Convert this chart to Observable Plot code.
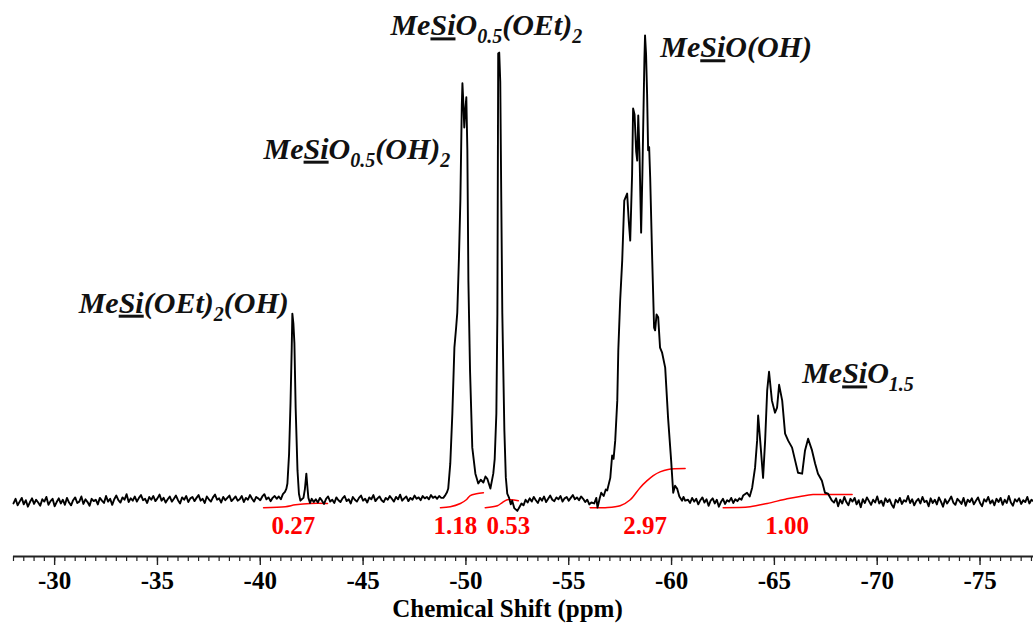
<!DOCTYPE html>
<html><head><meta charset="utf-8">
<script src="https://cdn.jsdelivr.net/npm/d3@7"></script>
<script src="https://cdn.jsdelivr.net/npm/@observablehq/plot@0.6"></script>
<style>body{margin:0;background:#fff}</style>
</head><body><div id="chart"></div>
<script>
// ---------- data (29Si NMR spectrum, chemical shift in ppm, intensity normalised to tallest peak = 100) ----------
const noiseStep = 0.1;
const noiseA_start = -28.0;
const noiseA = [
-0.6,0.4,-1.0,-0.2,0.6,-0.8,0.1,-1.3,-0.3,0.5,
-0.7,0.2,-0.4,-1.1,0.3,-0.2,0.8,-0.9,-0.1,0.4,
-1.2,-0.3,0.5,-0.6,0.2,-0.9,0.6,-0.4,-1.0,0.1,
0.7,-0.5,-0.2,0.9,-0.7,0.3,-0.3,-1.1,0.4,-0.1,
0.2,-0.8,0.6,0.0,-0.5,1.0,-0.2,0.4,-0.9,0.3,
1.1,0.1,-0.4,0.7,0.2,1.4,-0.3,0.5,0.0,0.9,
-0.2,0.6,1.2,0.1,0.4,-0.5,0.8,0.2,1.0,-0.1,
0.5,1.3,0.0,0.6,-0.4,0.3,0.9,-0.2,0.4,1.1,
0.1,-0.6,0.7,0.2,1.0,-0.3,0.5,0.8,-0.1,0.6,
1.2,0.0,0.4,-0.5,0.9,0.3,-0.2,0.7,1.3,0.2,
0.5,-0.4,0.8,0.1,0.6,1.1,-0.1,0.4,0.9,0.0,
0.3,1.0,-0.3,0.6,0.2,1.2,0.4,-0.2,0.8,0.5,
0.1,0.9,1.4,0.3,0.7,-0.1,0.6,1.0,0.4];
const noiseB_start = -42.7;
const noiseB = [
0.3,-0.4,0.6,0.0,-0.7,0.4,0.9,-0.2,0.2,-0.5,
0.7,0.1,-0.3,0.5,1.0,-0.1,0.3,-0.6,0.8,0.2,
-0.2,0.6,1.1,0.0,0.4,-0.4,0.7,0.3,1.2,-0.1,
0.5,0.9,0.1,-0.3,0.6,0.2,1.0,0.4,-0.2,0.8,
0.3,1.3,0.0,0.5,0.9,-0.1,0.6,0.2,1.1,0.4,
0.7,0.1,1.0,0.5,0.8,0.3,1.2,0.6,0.9,0.4,
1.0,0.6];
const noiseC_start = -52.6;
const noiseC = [
-1.4,-0.6,-1.0,0.2,-0.4,0.5,-0.2,0.8,0.1,-0.5,
0.6,0.0,0.9,-0.3,0.4,1.1,0.2,-0.1,0.7,0.3,
1.0,-0.2,0.5,0.8,0.0,0.6,1.2,0.3,0.7,0.1,
0.9,0.4,-0.3,0.2,-0.8];
const noiseD_start = -60.8;
const noiseD = [
0.2,-0.5,0.6,-0.2,0.4,-0.8,0.1,0.7,-0.4,0.3,
-1.1,0.0,0.5,-0.6,0.2,-1.3,-0.3,0.4,-0.7,0.1,
-0.2,0.6,-0.5,0.3,-0.1,0.5,0.2];
const noiseE_start = -67.9;
const noiseE = [
-0.4,0.5,-1.2,0.2,-0.6,0.8,-0.3,-1.0,0.4,-0.2,
0.6,-0.8,0.1,-1.4,0.3,-0.5,0.7,-0.1,-0.9,0.2,
-0.4,0.9,-0.6,0.0,-1.1,0.5,-0.3,0.3,-0.8,-1.5,
0.2,-0.4,0.6,-0.7,0.1,-0.2,1.0,-0.5,0.3,-1.0,
-0.1,0.4,-0.6,0.8,-0.3,0.0,-1.2,0.5,-0.5,0.2,
-0.8,0.7,-0.2,-1.3,0.3,-0.6,0.1,0.9,-0.4,-0.9,
0.4,-0.1,-0.7,0.6,-1.1,0.2,-0.3,0.5,-0.8,0.0,
0.7,-0.5,-1.2,0.3,-0.2,0.8,-0.6,0.1,-1.0,0.4,
-0.3,0.6,-0.9,0.2,-0.5,1.0,-0.4,-1.1,0.3,-0.2,
0.5,-0.7,0.1,-0.3,0.8,-0.6,0.2,-0.1];

// MeSi(OEt)2(OH)
const peakT0 = [[-40.9,0.9],[-41.0,0.3],[-41.1,1.4],[-41.2,1.9],[-41.27,2.6],[-41.32,3.7],[-41.40,10],[-41.47,20.9],[-41.53,33],[-41.56,40.2],[-41.61,38.1],[-41.66,33.8],[-41.72,20],[-41.81,6.5],[-41.88,1.5],[-41.95,0.0],[-42.02,0.3],[-42.10,0.6],[-42.17,2.5],[-42.24,5.8],[-42.30,2.5],[-42.34,0.6],[-42.42,-0.5],[-42.5,0.4],[-42.6,-0.3]];
// MeSiO0.5(OH)2 and MeSiO0.5(OEt)2
const peakT1 = [[-48.90,0.6],[-49.00,1.2],[-49.08,1.8],[-49.14,2.6],[-49.24,8],[-49.34,18.7],[-49.44,32.9],[-49.52,37],[-49.58,40.4],[-49.66,52],[-49.73,64.5],[-49.80,85],[-49.83,89.7],[-49.87,86.0],[-49.92,80.2],[-49.97,84],[-50.02,86.7],[-50.07,75.3],[-50.09,64.5],[-50.12,47.3],[-50.20,28],[-50.31,11.4],[-50.46,5.8],[-50.60,3.7],[-50.72,4.5],[-50.85,3.9],[-50.95,5.2],[-51.04,4.7],[-51.19,2.6],[-51.33,5.8],[-51.40,9],[-51.48,18.7],[-51.53,40.2],[-51.57,96.1],[-51.62,96.3],[-51.67,90],[-51.72,64.5],[-51.77,40.2],[-51.87,15.1],[-51.94,5],[-52.01,1.5],[-52.10,0.6],[-52.18,-0.8],[-52.25,0.0],[-52.35,-1.6],[-52.5,-2.2]];
// MeSiO(OH)
const peakT2 = [[-56.10,-0.4],[-56.24,-0.6],[-56.34,0.6],[-56.40,-1.5],[-56.50,0.4],[-56.58,1.7],[-56.70,1.0],[-56.80,2.4],[-56.87,2.2],[-57.02,4.9],[-57.11,9.7],[-57.18,9.0],[-57.26,12.9],[-57.36,21.5],[-57.41,32.3],[-57.50,43.0],[-57.60,51.6],[-57.70,64.5],[-57.84,66.0],[-57.92,60],[-57.99,55.9],[-58.08,70],[-58.13,84.3],[-58.20,83],[-58.28,75],[-58.33,73.1],[-58.38,82.8],[-58.44,75],[-58.52,57.6],[-58.58,70],[-58.62,80.2],[-58.68,95],[-58.71,100],[-58.76,96],[-58.81,87.5],[-58.86,75.3],[-58.91,76],[-58.96,69.5],[-59.06,51.6],[-59.15,37.2],[-59.20,36.6],[-59.27,40],[-59.35,39.4],[-59.44,32.9],[-59.54,31.8],[-59.69,28.6],[-59.83,17.8],[-59.98,8.6],[-60.08,1.7],[-60.17,3.2],[-60.27,2.6],[-60.38,0.9],[-60.51,0.0],[-60.58,0.8],[-60.66,0.0]];
// MeSiO1.5
const peakT3 = [[-63.48,1.1],[-63.67,1.7],[-63.80,0.9],[-63.92,2.8],[-64.06,7.1],[-64.16,12.9],[-64.21,18.3],[-64.31,12.9],[-64.45,4.9],[-64.55,12.9],[-64.65,23.7],[-64.74,27.7],[-64.88,21.5],[-65.03,18.9],[-65.13,20.0],[-65.23,24.9],[-65.38,21.5],[-65.52,14.4],[-65.67,12.9],[-65.86,11.4],[-66.01,8.6],[-66.15,6.0],[-66.35,5.8],[-66.49,10.8],[-66.64,13.3],[-66.83,10.8],[-66.98,8.0],[-67.12,5.8],[-67.31,4.3],[-67.46,1.7],[-67.61,1.5],[-67.80,0.0]];

// integration traces
const integ027 = [[-40.16,-1.5],[-41.22,-1.3],[-41.71,-0.9],[-42.44,-0.6],[-43.27,-0.6]];
const integ118 = [[-48.76,-1.5],[-49.24,-1.3],[-49.73,-0.6],[-50.02,0.2],[-50.21,1.1],[-50.51,1.5],[-50.85,1.7]];
const integ053 = [[-50.94,-1.5],[-51.53,-1.1],[-51.77,-0.4],[-52.01,0.2],[-52.21,0.2],[-52.55,0.0]];
const integ297 = [[-56.04,-1.5],[-56.77,-1.5],[-57.50,-1.1],[-57.99,0.2],[-58.47,2.8],[-58.81,4.3],[-59.11,5.4],[-59.44,6.2],[-59.83,6.7],[-60.66,6.9]];
const integ100 = [[-62.51,-1.5],[-63.82,-1.3],[-64.65,-0.6],[-65.62,0.4],[-66.25,0.9],[-66.88,1.3],[-67.56,1.3],[-68.78,1.3]];
const integValues = ["0.27","1.18","0.53","2.97","1.00"];
const integLabelShift = [-41.61,-49.49,-52.06,-58.72,-65.62];
const integLabelY = [-5.4,-5.4,-5.4,-5.4,-5.4];

// peak assignments
const compoundLabels = [
  "Me<u>Si</u>(OEt)<sub>2</sub>(OH)",
  "Me<u>Si</u>O<sub>0.5</sub>(OH)<sub>2</sub>",
  "Me<u>Si</u>O<sub>0.5</sub>(OEt)<sub>2</sub>",
  "Me<u>Si</u>O(OH)",
  "Me<u>Si</u>O<sub>1.5</sub>"];
const labelShift = [-31.17,-40.16,-46.33,-59.45,-66.35];
const labelHeight = [40.4,73.5,100,95.3,25.2];

// axis
const xDomain = [-28, -77.6];
const yDomain = [-12, 107.5];
const majorTicks = [-30,-35,-40,-45,-50,-55,-60,-65,-70,-75];
const minorTicks = d3.range(-28, -77.6, -0.5);
const xTitle = "Chemical Shift (ppm)";

// ---------- build tables ----------
const spectrum = [];
[[noiseA_start,noiseA],[noiseB_start,noiseB],[noiseC_start,noiseC],[noiseD_start,noiseD],[noiseE_start,noiseE]]
  .forEach(([s, vals]) => vals.forEach((v, i) => spectrum.push({ppm: +(s - noiseStep * i).toFixed(2), I: v})));
[peakT0, peakT1, peakT2, peakT3].forEach(p => p.forEach(([ppm, I]) => spectrum.push({ppm, I})));
spectrum.sort((a, b) => b.ppm - a.ppm);

const integrals = [];
[integ027, integ118, integ053, integ297, integ100].forEach((arr, k) =>
  arr.forEach(([ppm, I]) => integrals.push({ppm, I, k})));
const integLabels = integValues.map((t, i) => ({t, ppm: integLabelShift[i], I: integLabelY[i]}));

const strip = s => s.replace(/<[^>]+>/g, "");
const labels = compoundLabels.map((m, i) => ({plain: strip(m), markup: m, ppm: labelShift[i], I: labelHeight[i]}));

const serif = "Liberation Serif";

const svg = Plot.plot({
  width: 1033, height: 623,
  marginLeft: 13, marginRight: 0, marginTop: 0, marginBottom: 67,
  style: {fontFamily: serif, fontWeight: "bold", fontSize: "25px", color: "#000", background: "#fff", overflow: "visible"},
  x: {domain: xDomain},
  y: {domain: yDomain, axis: null},
  marks: [
    Plot.ruleY([yDomain[0]], {stroke: "#222", strokeWidth: 1.8}),
    Plot.axisX(minorTicks, {tickSize: 5, tickFormat: () => "", label: null, stroke: "#222", strokeWidth: 1.2}),
    Plot.axisX(majorTicks, {tickSize: 9, tickPadding: 6, tickFormat: d => String(d), label: null,
      fontSize: 25, fontWeight: "bold", fontFamily: serif, stroke: "#222", strokeWidth: 1.4, fill: "#000"}),
    Plot.text([xTitle], {text: d => d, frameAnchor: "bottom", dy: 60, dx: -16, fontSize: 25, fontWeight: "bold", fontFamily: serif, fill: "#000"}),
    Plot.line(integrals, {x: "ppm", y: "I", z: "k", stroke: "#ff0000", strokeWidth: 1.5, curve: "catmull-rom"}),
    Plot.line(spectrum, {x: "ppm", y: "I", stroke: "#000", strokeWidth: 1.9, strokeLinejoin: "round"}),
    Plot.text(integLabels, {x: "ppm", y: "I", text: "t", fontSize: 25, fontWeight: "bold", fontFamily: serif, fill: "#ff0000"}),
    Plot.text(labels, {x: "ppm", y: "I", text: "plain", textAnchor: "start", lineAnchor: "bottom",
      fontSize: 30, fontWeight: "bold", fontStyle: "italic", fontFamily: serif, fill: "#111"})
  ]
});

// rich text (underline + subscripts) for assignments
const NS = "http://www.w3.org/2000/svg";
const subSize = 20, subDy = 8;
svg.querySelectorAll("text").forEach(el => {
  const lab = labels.find(l => l.plain === el.textContent);
  if (!lab) return;
  el.textContent = "";
  let cur = 0;
  const re = /<(u|sub)>(.*?)<\/\1>|([^<]+)/g;
  let m;
  while ((m = re.exec(lab.markup))) {
    const t = document.createElementNS(NS, "tspan");
    const isSub = m[1] === "sub", isU = m[1] === "u";
    t.textContent = m[1] ? m[2] : m[3];
    const target = isSub ? subDy : 0;
    if (target !== cur) { t.setAttribute("dy", target - cur); cur = target; }
    if (isSub) t.setAttribute("font-size", subSize);
    if (isU) t.setAttribute("text-decoration", "underline");
    el.appendChild(t);
  }
});

document.getElementById("chart").appendChild(svg);
</script></body></html>
